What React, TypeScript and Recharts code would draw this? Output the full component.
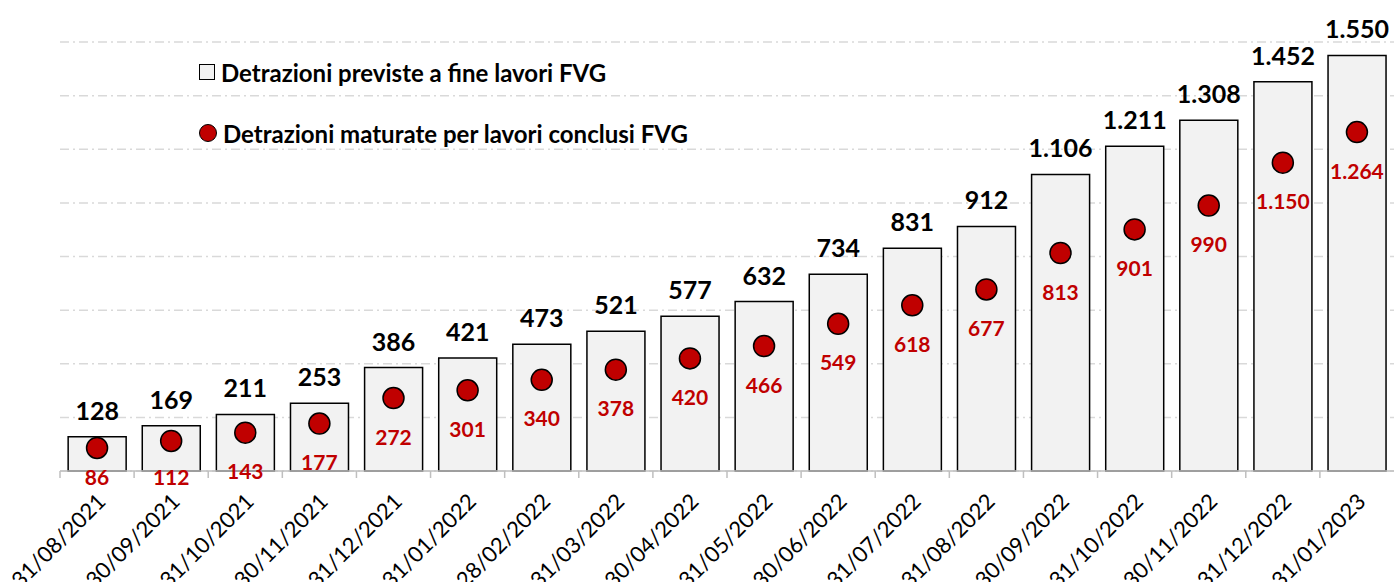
import React from "react";
import {
  Bar,
  CartesianGrid,
  ComposedChart,
  LabelList,
  Line,
  XAxis,
  YAxis,
} from "recharts";

const dates = [
  "31/08/2021", "30/09/2021", "31/10/2021", "30/11/2021", "31/12/2021",
  "31/01/2022", "28/02/2022", "31/03/2022", "30/04/2022", "31/05/2022",
  "30/06/2022", "31/07/2022", "31/08/2022", "30/09/2022", "31/10/2022",
  "30/11/2022", "31/12/2022", "31/01/2023",
];
const previste = [
  128, 169, 211, 253, 386, 421, 473, 521, 577, 632, 734, 831, 912, 1106, 1211,
  1308, 1452, 1550,
];
const maturate = [
  86, 112, 143, 177, 272, 301, 340, 378, 420, 466, 549, 618, 677, 813, 901,
  990, 1150, 1264,
];
const yTicks = [0, 200, 400, 600, 800, 1000, 1200, 1400, 1600];
const legendLabels = [
  "Detrazioni previste a fine lavori FVG",
  "Detrazioni maturate per lavori conclusi FVG",
];

const data = dates.map((d, i) => ({
  date: d,
  previste: previste[i],
  maturate: maturate[i],
}));

const W = 1394;
const H = 582;
const LEFT = 60;
const AXIS_Y = 471;
const BAND = (W - LEFT) / dates.length;
const FONT = "Lato, 'Open Sans', sans-serif";
const RED = "#c00000";

// 1550 -> "1.550"
const fmt = (v: number) => String(v).replace(/\B(?=(\d{3})+(?!\d))/g, ".");

const DateTick = (props: any) => {
  const { x, y, payload } = props;
  const tx = x + 10;
  const ty = y + 32;
  return (
    <g>
      <line x1={x - BAND / 2} x2={x - BAND / 2} y1={y} y2={y + 7} stroke="#bfbfbf" strokeWidth={1.5} />
      <text
        x={tx}
        y={ty}
        transform={`rotate(-45 ${tx} ${ty})`}
        textAnchor="end"
        fontFamily={FONT}
        fontSize={22}
        fill="#000"
      >
        {payload.value}
      </text>
    </g>
  );
};

const BarLabel = (props: any) => {
  const { x, y, width, value } = props;
  return (
    <text
      x={x + width / 2}
      y={y - 27}
      textAnchor="middle"
      dominantBaseline="central"
      fontFamily={FONT}
      fontWeight={700}
      fontSize={25}
      fill="#000"
    >
      {fmt(value)}
    </text>
  );
};

const DotLabel = (props: any) => {
  const { x, y, value } = props;
  const ly = Math.min(y + 38, AXIS_Y + 5);
  return (
    <text
      x={x}
      y={ly}
      textAnchor="middle"
      dominantBaseline="central"
      fontFamily={FONT}
      fontWeight={700}
      fontSize={21}
      fill={RED}
    >
      {fmt(value)}
    </text>
  );
};

const legendRow = (label: string, round: boolean, top: number) => (
  <div
    key={label}
    style={{
      position: "absolute",
      left: 199,
      top,
      height: 30,
      display: "flex",
      alignItems: "center",
      whiteSpace: "nowrap",
    }}
  >
    <span
      style={{
        width: round ? 16 : 14,
        height: round ? 16 : 14,
        borderRadius: round ? "50%" : 0,
        background: round ? RED : "#f2f2f2",
        border: "1.5px solid #000",
        marginRight: 6,
        display: "inline-block",
      }}
    />
    {label}
  </div>
);

export default function App() {
  return (
    <div style={{ position: "absolute", left: 0, top: 0, width: W, height: H, background: "#fff", overflow: "hidden" }}>
      <ComposedChart
        width={W}
        height={H}
        data={data}
        margin={{ top: 42, right: 0, left: LEFT, bottom: 0 }}
        barCategoryGap="11%"
      >
        <CartesianGrid
          vertical={false}
          stroke="#d9d9d9"
          strokeWidth={1.5}
          strokeDasharray="9 4 2 4"
        />
        <XAxis
          dataKey="date"
          height={H - AXIS_Y}
          axisLine={{ stroke: "#bfbfbf", strokeWidth: 1.5 }}
          tickLine={false}
          tickSize={0}
          tickMargin={0}
          interval={0}
          tick={<DateTick />}
        />
        <YAxis hide domain={[0, 1600]} ticks={yTicks} width={0} />
        <Bar
          dataKey="previste"
          fill="#f2f2f2"
          stroke="#000"
          strokeWidth={1.5}
          isAnimationActive={false}
        >
          <LabelList dataKey="previste" content={<BarLabel />} />
        </Bar>
        <Line
          dataKey="maturate"
          stroke="none"
          dot={{ r: 10.5, fill: RED, stroke: "#000", strokeWidth: 1.5 }}
          activeDot={false}
          isAnimationActive={false}
        >
          <LabelList dataKey="maturate" content={<DotLabel />} />
        </Line>
      </ComposedChart>
      <div style={{ fontFamily: FONT, fontWeight: 700, fontSize: 24, color: "#000" }}>
        {legendRow(legendLabels[0], false, 57)}
        {legendRow(legendLabels[1], true, 118)}
      </div>
    </div>
  );
}
